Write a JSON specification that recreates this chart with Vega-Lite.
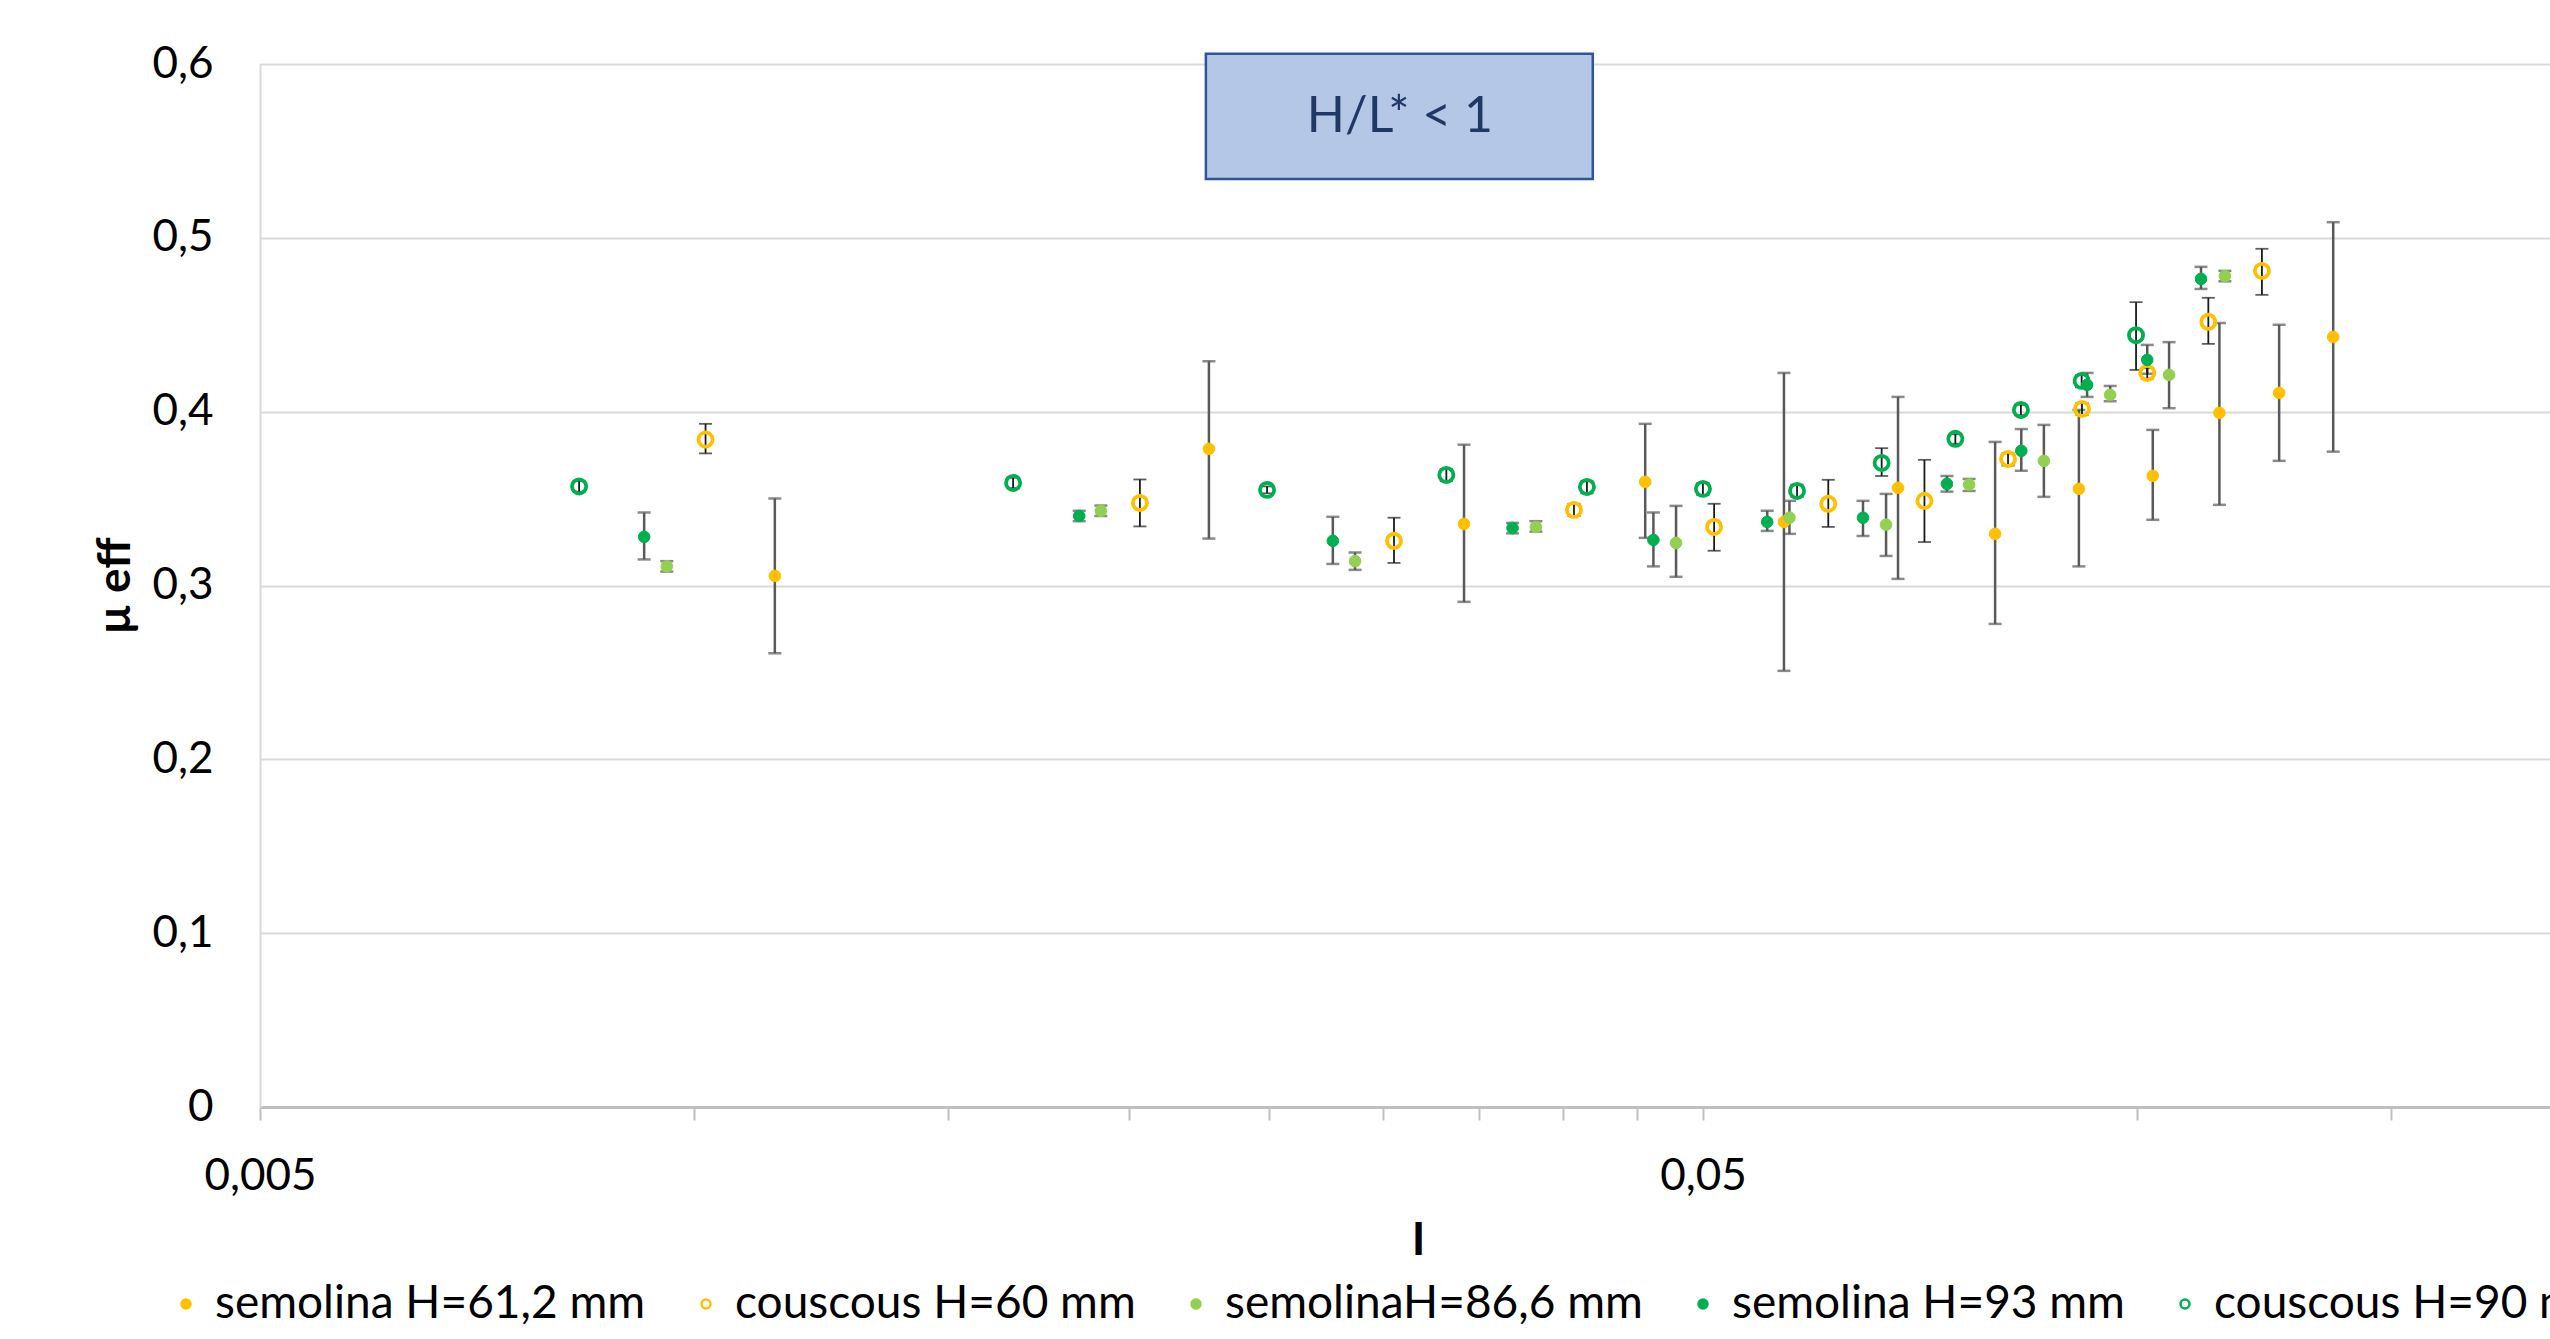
{
  "$schema": "https://vega.github.io/schema/vega-lite/v6.json",
  "autosize": {"type": "none"},
  "padding": {"left": 260, "top": 64, "right": 0, "bottom": 232},
  "width": 2290,
  "height": 1043,
  "background": "white",
  "config": {
    "view": {"stroke": null},
    "font": "Lato"
  },
  "datasets": {
    "pts": [
      {"series": "semolina H=61,2 mm", "I": 0.01137, "mu": 0.3055, "lo": 0.261, "hi": 0.350},
      {"series": "semolina H=61,2 mm", "I": 0.02273, "mu": 0.3786, "lo": 0.327, "hi": 0.429},
      {"series": "semolina H=61,2 mm", "I": 0.03415, "mu": 0.3354, "lo": 0.2906, "hi": 0.381},
      {"series": "semolina H=61,2 mm", "I": 0.0456, "mu": 0.3596, "lo": 0.3274, "hi": 0.393},
      {"series": "semolina H=61,2 mm", "I": 0.0569, "mu": 0.3366, "lo": 0.2509, "hi": 0.4223},
      {"series": "semolina H=61,2 mm", "I": 0.06826, "mu": 0.3562, "lo": 0.3038, "hi": 0.4085},
      {"series": "semolina H=61,2 mm", "I": 0.0797, "mu": 0.3297, "lo": 0.2779, "hi": 0.3826},
      {"series": "semolina H=61,2 mm", "I": 0.0911, "mu": 0.3556, "lo": 0.311, "hi": 0.401},
      {"series": "semolina H=61,2 mm", "I": 0.1025, "mu": 0.3631, "lo": 0.3378, "hi": 0.3895},
      {"series": "semolina H=61,2 mm", "I": 0.114, "mu": 0.3993, "lo": 0.3464, "hi": 0.451},
      {"series": "semolina H=61,2 mm", "I": 0.1254, "mu": 0.4108, "lo": 0.3717, "hi": 0.45},
      {"series": "semolina H=61,2 mm", "I": 0.1367, "mu": 0.443, "lo": 0.377, "hi": 0.509},
      {"series": "couscous H=60 mm", "I": 0.01018, "mu": 0.384, "lo": 0.376, "hi": 0.393},
      {"series": "couscous H=60 mm", "I": 0.02036, "mu": 0.3475, "lo": 0.334, "hi": 0.361},
      {"series": "couscous H=60 mm", "I": 0.03054, "mu": 0.3257, "lo": 0.313, "hi": 0.339},
      {"series": "couscous H=60 mm", "I": 0.0407, "mu": 0.3435, "lo": 0.340, "hi": 0.347},
      {"series": "couscous H=60 mm", "I": 0.0509, "mu": 0.3337, "lo": 0.320, "hi": 0.347},
      {"series": "couscous H=60 mm", "I": 0.06107, "mu": 0.347, "lo": 0.3337, "hi": 0.3608},
      {"series": "couscous H=60 mm", "I": 0.0712, "mu": 0.3487, "lo": 0.325, "hi": 0.3723},
      {"series": "couscous H=60 mm", "I": 0.08136, "mu": 0.3728, "lo": 0.369, "hi": 0.376},
      {"series": "couscous H=60 mm", "I": 0.09155, "mu": 0.4016, "lo": 0.398, "hi": 0.405},
      {"series": "couscous H=60 mm", "I": 0.1016, "mu": 0.4223, "lo": 0.419, "hi": 0.425},
      {"series": "couscous H=60 mm", "I": 0.112, "mu": 0.4517, "lo": 0.439, "hi": 0.4655},
      {"series": "couscous H=60 mm", "I": 0.122, "mu": 0.481, "lo": 0.4672, "hi": 0.4937},
      {"series": "semolinaH=86,6 mm", "I": 0.00957, "mu": 0.311, "lo": 0.308, "hi": 0.314},
      {"series": "semolinaH=86,6 mm", "I": 0.01913, "mu": 0.343, "lo": 0.340, "hi": 0.346},
      {"series": "semolinaH=86,6 mm", "I": 0.0287, "mu": 0.314, "lo": 0.309, "hi": 0.319},
      {"series": "semolinaH=86,6 mm", "I": 0.0383, "mu": 0.3337, "lo": 0.331, "hi": 0.337},
      {"series": "semolinaH=86,6 mm", "I": 0.0479, "mu": 0.3245, "lo": 0.305, "hi": 0.3458},
      {"series": "semolinaH=86,6 mm", "I": 0.0574, "mu": 0.339, "lo": 0.3297, "hi": 0.3487},
      {"series": "semolinaH=86,6 mm", "I": 0.06697, "mu": 0.335, "lo": 0.317, "hi": 0.3527},
      {"series": "semolinaH=86,6 mm", "I": 0.07646, "mu": 0.358, "lo": 0.3544, "hi": 0.3613},
      {"series": "semolinaH=86,6 mm", "I": 0.08615, "mu": 0.3717, "lo": 0.351, "hi": 0.3924},
      {"series": "semolinaH=86,6 mm", "I": 0.09576, "mu": 0.4097, "lo": 0.406, "hi": 0.4148},
      {"series": "semolinaH=86,6 mm", "I": 0.1052, "mu": 0.4212, "lo": 0.402, "hi": 0.440},
      {"series": "semolinaH=86,6 mm", "I": 0.115, "mu": 0.478, "lo": 0.475, "hi": 0.481},
      {"series": "semolina H=93 mm", "I": 0.00923, "mu": 0.328, "lo": 0.315, "hi": 0.342},
      {"series": "semolina H=93 mm", "I": 0.01848, "mu": 0.340, "lo": 0.337, "hi": 0.343},
      {"series": "semolina H=93 mm", "I": 0.0277, "mu": 0.3257, "lo": 0.3124, "hi": 0.3395},
      {"series": "semolina H=93 mm", "I": 0.0369, "mu": 0.3331, "lo": 0.330, "hi": 0.336},
      {"series": "semolina H=93 mm", "I": 0.0462, "mu": 0.3262, "lo": 0.311, "hi": 0.342},
      {"series": "semolina H=93 mm", "I": 0.0554, "mu": 0.3366, "lo": 0.3314, "hi": 0.343},
      {"series": "semolina H=93 mm", "I": 0.06455, "mu": 0.339, "lo": 0.3285, "hi": 0.3487},
      {"series": "semolina H=93 mm", "I": 0.0738, "mu": 0.3585, "lo": 0.354, "hi": 0.363},
      {"series": "semolina H=93 mm", "I": 0.0831, "mu": 0.3775, "lo": 0.366, "hi": 0.390},
      {"series": "semolina H=93 mm", "I": 0.0923, "mu": 0.4154, "lo": 0.4085, "hi": 0.4223},
      {"series": "semolina H=93 mm", "I": 0.1016, "mu": 0.4298, "lo": 0.4218, "hi": 0.4384},
      {"series": "semolina H=93 mm", "I": 0.1107, "mu": 0.4764, "lo": 0.4706, "hi": 0.4833},
      {"series": "couscous H=90 mm", "I": 0.00832, "mu": 0.357, "lo": 0.354, "hi": 0.360},
      {"series": "couscous H=90 mm", "I": 0.01663, "mu": 0.359, "lo": 0.356, "hi": 0.362},
      {"series": "couscous H=90 mm", "I": 0.02494, "mu": 0.355, "lo": 0.353, "hi": 0.357},
      {"series": "couscous H=90 mm", "I": 0.0332, "mu": 0.3636, "lo": 0.360, "hi": 0.367},
      {"series": "couscous H=90 mm", "I": 0.04155, "mu": 0.3567, "lo": 0.353, "hi": 0.360},
      {"series": "couscous H=90 mm", "I": 0.0500, "mu": 0.3556, "lo": 0.352, "hi": 0.359},
      {"series": "couscous H=90 mm", "I": 0.0581, "mu": 0.3544, "lo": 0.351, "hi": 0.358},
      {"series": "couscous H=90 mm", "I": 0.0665, "mu": 0.3705, "lo": 0.363, "hi": 0.379},
      {"series": "couscous H=90 mm", "I": 0.0748, "mu": 0.3844, "lo": 0.3815, "hi": 0.387},
      {"series": "couscous H=90 mm", "I": 0.08305, "mu": 0.401, "lo": 0.398, "hi": 0.404},
      {"series": "couscous H=90 mm", "I": 0.0915, "mu": 0.4177, "lo": 0.414, "hi": 0.421},
      {"series": "couscous H=90 mm", "I": 0.0998, "mu": 0.444, "lo": 0.424, "hi": 0.463}
    ],
    "note": [
      {"label": "H/L* < 1", "x1": 0.02262, "x2": 0.04194, "y1": 0.5339, "y2": 0.6059, "xc": 0.03083, "yc": 0.5695}
    ]
  },
  "layer": [
    {
      "data": {"name": "pts"},
      "transform": [{"filter": "indexof(datum.series, 'couscous') < 0"}],
      "mark": {"type": "rule", "color": "#595959", "strokeWidth": 2.5},
      "encoding": {
        "x": {"field": "I", "type": "quantitative",
          "scale": {"type": "log", "domain": [0.005, 0.1932], "nice": false},
          "axis": {
            "title": "I",
            "titleX": 1158, "titleAlign": "center",
            "values": [0.005, 0.01, 0.015, 0.02, 0.025, 0.03, 0.035, 0.04, 0.045, 0.05, 0.1, 0.15],
            "labelExpr": "datum.value == 0.005 ? '0,005' : (datum.value == 0.05 ? '0,05' : '')",
            "labelOverlap": false,
            "labelFlush": false,
            "labelFont": "Lato", "labelFontSize": 44, "labelColor": "#000000", "labelPadding": 34,
            "tickColor": "#BFBFBF", "tickSize": 13, "tickWidth": 2,
            "domainColor": "#BFBFBF", "domainWidth": 3,
            "grid": false,
            "titleFont": "Lato", "titleFontSize": 46, "titleFontWeight": "bold", "titleColor": "#000000", "titlePadding": 20
          }},
        "y": {"field": "lo", "type": "quantitative",
          "scale": {"domain": [0, 0.6], "nice": false, "zero": true},
          "axis": {
            "title": "µ eff",
            "values": [0, 0.1, 0.2, 0.3, 0.4, 0.5, 0.6],
            "labelExpr": "datum.value == 0 ? '0' : replace(format(datum.value, '.1f'), '.', ',')",
            "labelFont": "Lato", "labelFontSize": 44, "labelColor": "#000000", "labelPadding": 47,
            "ticks": false, "tickSize": 0,
            "domainColor": "#D9D9D9", "domainWidth": 2,
            "grid": true, "gridColor": "#D9D9D9", "gridWidth": 2,
            "titleFont": "Lato", "titleFontSize": 46, "titleFontWeight": "bold", "titleColor": "#000000", "titlePadding": 12
          }},
        "y2": {"field": "hi"}
      }
    },
    {
      "data": {"name": "pts"},
      "transform": [
        {"filter": "indexof(datum.series, 'couscous') < 0"},
        {"fold": ["lo", "hi"], "as": ["end", "v"]}
      ],
      "mark": {"type": "tick", "orient": "horizontal", "color": "#595959", "size": 13, "thickness": 2.5},
      "encoding": {
        "x": {"field": "I", "type": "quantitative"},
        "y": {"field": "v", "type": "quantitative"}
      }
    },
    {
      "data": {"name": "pts"},
      "transform": [{"filter": "indexof(datum.series, 'couscous') >= 0"}],
      "mark": {"type": "rule", "color": "#1A1A1A", "strokeWidth": 1.8},
      "encoding": {
        "x": {"field": "I", "type": "quantitative"},
        "y": {"field": "lo", "type": "quantitative"},
        "y2": {"field": "hi"}
      }
    },
    {
      "data": {"name": "pts"},
      "transform": [
        {"filter": "indexof(datum.series, 'couscous') >= 0"},
        {"fold": ["lo", "hi"], "as": ["end", "v"]}
      ],
      "mark": {"type": "tick", "orient": "horizontal", "color": "#1A1A1A", "size": 13, "thickness": 1.8},
      "encoding": {
        "x": {"field": "I", "type": "quantitative"},
        "y": {"field": "v", "type": "quantitative"}
      }
    },
    {
      "data": {"name": "pts"},
      "mark": {"type": "point", "shape": "circle", "opacity": 1},
      "encoding": {
        "x": {"field": "I", "type": "quantitative"},
        "y": {"field": "mu", "type": "quantitative"},
        "fill": {"field": "series", "type": "nominal",
          "scale": {"domain": ["semolina H=61,2 mm", "couscous H=60 mm", "semolinaH=86,6 mm", "semolina H=93 mm", "couscous H=90 mm"],
                    "range": ["#FFC000", "transparent", "#92D050", "#00B050", "transparent"]},
          "legend": {
            "title": null, "orient": "none", "direction": "horizontal",
            "legendX": -97, "legendY": 1217, "padding": 0,
            "symbolType": "circle", "symbolSize": 80, "symbolStrokeWidth": 2.5,
            "labelFont": "Lato", "labelFontSize": 46, "labelColor": "#000000", "labelLimit": 1000,
            "labelOffset": 6, "columnPadding": 37
          }},
        "stroke": {"field": "series", "type": "nominal",
          "scale": {"domain": ["semolina H=61,2 mm", "couscous H=60 mm", "semolinaH=86,6 mm", "semolina H=93 mm", "couscous H=90 mm"],
                    "range": ["#FFC000", "#FFC000", "#92D050", "#00B050", "#00B050"]}},
        "strokeWidth": {"condition": {"test": "indexof(datum.series, 'couscous') >= 0", "value": 3.8}, "value": 1},
        "size": {"condition": {"test": "indexof(datum.series, 'couscous') >= 0", "value": 200}, "value": 135}
      }
    },
    {
      "data": {"name": "note"},
      "mark": {"type": "rect", "fill": "#B4C7E7", "stroke": "#2F5597", "strokeWidth": 2.5},
      "encoding": {
        "x": {"field": "x1", "type": "quantitative"},
        "x2": {"field": "x2"},
        "y": {"field": "y1", "type": "quantitative"},
        "y2": {"field": "y2"}
      }
    },
    {
      "data": {"name": "note"},
      "mark": {"type": "text", "font": "Lato", "fontSize": 50, "color": "#1F3864", "align": "center", "baseline": "middle"},
      "encoding": {
        "x": {"field": "xc", "type": "quantitative"},
        "y": {"field": "yc", "type": "quantitative"},
        "text": {"field": "label"}
      }
    }
  ]
}
